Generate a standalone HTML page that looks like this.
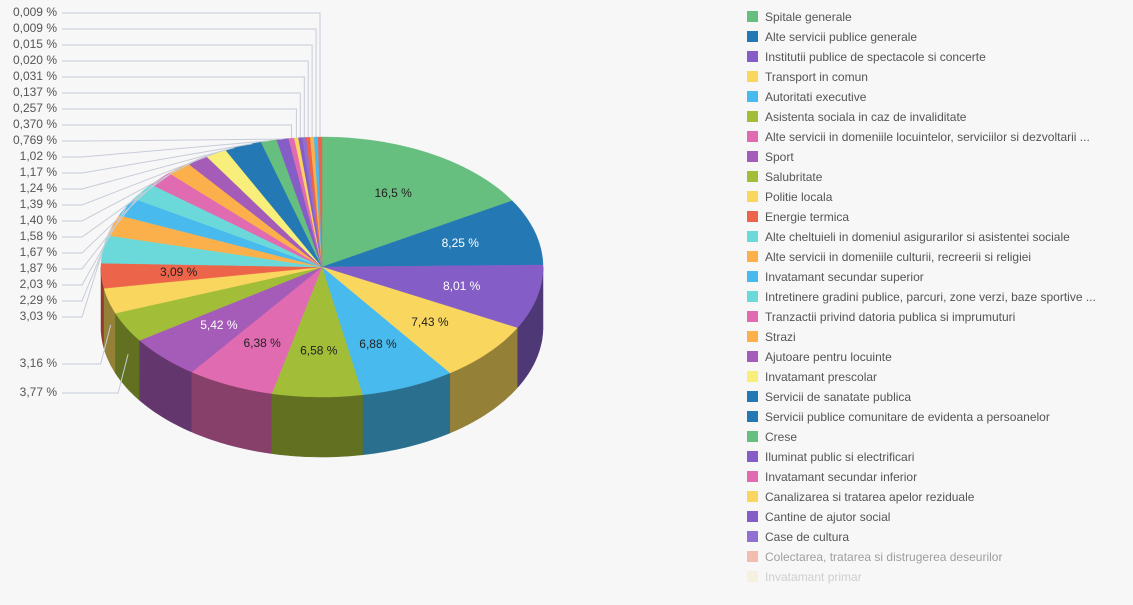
<!DOCTYPE html>
<html><head><meta charset="utf-8"><style>
body{margin:0;background:#f7f7f7;font-family:"Liberation Sans",sans-serif;}
#wrap{position:relative;width:1133px;height:605px;overflow:hidden;background:#f7f7f7}
.leg{position:absolute;left:747px;font-size:12px;color:#555;white-space:nowrap;height:14px;line-height:14px}
.leg span{display:inline-block;width:11px;height:11px;vertical-align:-1px;margin-right:7px}
</style></head><body>
<div id="wrap">
<svg id="pie" width="740" height="605" style="position:absolute;left:0;top:0"></svg>
<div id="legend"></div>
</div>
<script>
const values=[16.5,8.25,8.01,7.43,6.88,6.58,6.38,5.42,3.77,3.16,3.09,3.03,2.29,2.03,1.87,1.67,1.58,1.40,1.39,1.24,1.17,1.02,0.769,0.370,0.257,0.137,0.031,0.020,0.015,0.009,0.009];
const labels=["16,5 %","8,25 %","8,01 %","7,43 %","6,88 %","6,58 %","6,38 %","5,42 %","3,77 %","3,16 %","3,09 %","3,03 %","2,29 %","2,03 %","1,87 %","1,67 %","1,58 %","1,40 %","1,39 %","1,24 %","1,17 %","1,02 %","0,769 %","0,370 %","0,257 %","0,137 %","0,031 %","0,020 %","0,015 %","0,009 %","0,009 %"];
const categories=["Spitale generale","Alte servicii publice generale","Institutii publice de spectacole si concerte","Transport in comun","Autoritati executive","Asistenta sociala in caz de invaliditate","Alte servicii in domeniile locuintelor, serviciilor si dezvoltarii ...","Sport","Salubritate","Politie locala","Energie termica","Alte cheltuieli in domeniul asigurarilor si asistentei sociale","Alte servicii in domeniile culturii, recreerii si religiei","Invatamant secundar superior","Intretinere gradini publice, parcuri, zone verzi, baze sportive ...","Tranzactii privind datoria publica si imprumuturi","Strazi","Ajutoare pentru locuinte","Invatamant prescolar","Servicii de sanatate publica","Servicii publice comunitare de evidenta a persoanelor","Crese","Iluminat public si electrificari","Invatamant secundar inferior","Canalizarea si tratarea apelor reziduale","Cantine de ajutor social","Case de cultura","Colectarea, tratarea si distrugerea deseurilor","Invatamant primar"];
const colors=["#66bf7f","#2479b5","#845ec6","#f9d65e","#48baed","#a2bd38","#e06bb1","#a55bb8","#a2bd38","#f9d65e","#ec654a","#6bd9d9","#fcb04c","#48baed","#6bd9d9","#e06bb1","#fcb04c","#a55bb8","#f7ef7a","#2479b5","#2479b5","#66bf7f","#845ec6","#e06bb1","#f9d65e","#845ec6","#9070d0","#ec654a","#fcb04c","#48baed","#ec654a"];
const NS="http://www.w3.org/2000/svg";
const svg=document.getElementById('pie');
const cx=322,cy=267,rx=221,ry=130,dep=60;
function P(t,k){k=k||1;return [cx+rx*k*Math.sin(t),cy-ry*k*Math.cos(t)];}
function dark(h){const n=parseInt(h.slice(1),16);const f=0.6;const r=((n>>16)&255)*f|0,g=((n>>8)&255)*f|0,b=(n&255)*f|0;return `rgb(${r},${g},${b})`;}
// angle weights: big slices as share of 100, small ones (with min size) fill the rest
const SPLIT=11;
let headSum=0;for(let i=0;i<SPLIT;i++)headSum+=values[i]/100;
let tailRaw=0;for(let i=SPLIT;i<values.length;i++)tailRaw+=Math.max(values[i],0.25);
const k=(1-headSum)/tailRaw;
const sl=[];let a=0;
values.forEach((v,i)=>{const w=i<SPLIT?v/100:Math.max(v,0.25)*k;const s=a;a+=w*2*Math.PI;sl.push([s,a]);});
const gSide=document.createElementNS(NS,'g');svg.appendChild(gSide);
const gTop=document.createElementNS(NS,'g');svg.appendChild(gTop);
const gLab=document.createElementNS(NS,'g');svg.appendChild(gLab);
function arcPts(s,e,dy){let p=[];const n=Math.max(2,Math.ceil((e-s)/0.02));for(let j=0;j<=n;j++){const t=s+(e-s)*j/n;const q=P(t);p.push([q[0],q[1]+dy]);}return p;}
const order=sl.map((x,i)=>i).sort((i,j)=>Math.abs((sl[j][0]+sl[j][1])/2-Math.PI)-Math.abs((sl[i][0]+sl[i][1])/2-Math.PI));
order.forEach(i=>{
  let s=Math.max(sl[i][0],Math.PI/2),e=Math.min(sl[i][1],3*Math.PI/2);
  if(e<=s)return;
  const top=arcPts(s,e,0),bot=arcPts(s,e,dep).reverse();
  const d='M'+top.concat(bot).map(p=>p[0].toFixed(1)+','+p[1].toFixed(1)).join('L')+'Z';
  const path=document.createElementNS(NS,'path');
  path.setAttribute('d',d);path.setAttribute('fill',dark(colors[i]));path.setAttribute('stroke',dark(colors[i]));path.setAttribute('stroke-width','0.5');
  
  
  gSide.appendChild(path);
});
sl.forEach((x,i)=>{
  const pts=arcPts(x[0],x[1],0);
  const d='M'+cx+','+cy+'L'+pts.map(p=>p[0].toFixed(1)+','+p[1].toFixed(1)).join('L')+'Z';
  const path=document.createElementNS(NS,'path');
  path.setAttribute('d',d);path.setAttribute('fill',colors[i]);path.setAttribute('stroke',colors[i]);path.setAttribute('stroke-width','0.4');
  
  
  gTop.appendChild(path);
});
const whiteIdx=[1,2,7];
function txt(x,y,s,anchor,fill,name){const t=document.createElementNS(NS,'text');t.setAttribute('x',x);t.setAttribute('y',y);t.setAttribute('text-anchor',anchor);t.setAttribute('font-size','12');t.setAttribute('fill',fill);t.setAttribute('dominant-baseline','middle');t.textContent=s;


gLab.appendChild(t);}
function line(pts,name){const l=document.createElementNS(NS,'polyline');l.setAttribute('points',pts.map(p=>p.map(v=>v.toFixed(1)).join(',')).join(' '));l.setAttribute('fill','none');l.setAttribute('stroke','#c6ccd8');l.setAttribute('stroke-width','1');


gLab.appendChild(l);}
sl.forEach((x,i)=>{
  const m=(x[0]+x[1])/2;
  if(values[i]>=3.05 && i!==8 && i!==9){
    const p=P(m,0.65);
    txt(p[0],p[1],labels[i],'middle',whiteIdx.includes(i)?'#fff':'#222','value-label-'+(i+1));
  }
});
const outIdx=[8,9];for(let i=11;i<values.length;i++)outIdx.push(i);
outIdx.forEach(i=>{
  const m=(sl[i][0]+sl[i][1])/2;
  let ly;
  if(i===8)ly=393;else if(i===9)ly=364;else ly=317-(i-11)*16;
  const e=P(m,1);
  if(i===8||i===9){const b=[e[0]+2,e[1]+dep*(i===8?0.45:0.4)];line([[62,ly],[b[0]-10,ly],b],'leader-line-'+(i+1));}
  else if(i>=23){line([[62,ly],[e[0],ly],[e[0],e[1]]],'leader-line-'+(i+1));}
  else line([[62,ly],[82,ly],e],'leader-line-'+(i+1));
  txt(57,ly,labels[i],'end','#555','outer-label-'+(i+1));
});
const L=document.getElementById('legend');
categories.forEach((c,i)=>{
  const d=document.createElement('div');d.className='leg';d.style.top=(10+i*20)+'px';
  
  
  if(i>=27){d.style.opacity=i===27?'0.55':'0.25';}
  const sw=document.createElement('span');sw.style.background=i===27?'#f08c78':(i===28?'#f5dca0':colors[i]);
  d.appendChild(sw);d.appendChild(document.createTextNode(c));L.appendChild(d);
});
</script>
</body></html>
